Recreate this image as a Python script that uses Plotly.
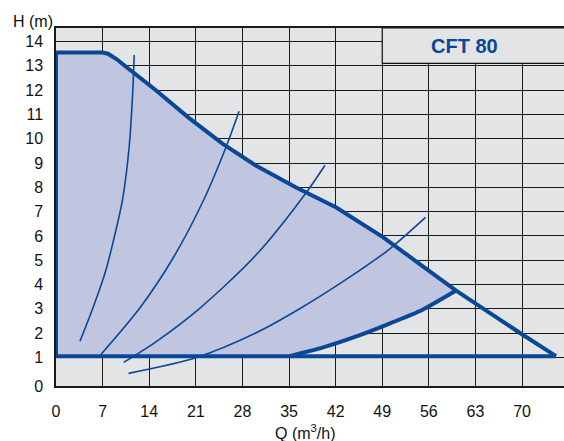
import plotly.graph_objects as go

# ---- axis ticks ----
Q_TICKS = [0, 7, 14, 21, 28, 35, 42, 49, 56, 63, 70]
H_TICKS = list(range(0, 15))
Q_RANGE = [0, 76.3]
H_RANGE = [-0.18, 14.56]

# ---- maximum curve (upper boundary) ----
MAX_Q = [0, 7.0, 7.8, 8.5, 9.2, 10.0, 15.0, 20.0, 25.0, 30.0, 36.0, 42.1, 49.1, 55.1, 60.1, 70.1, 75.1]
MAX_H = [13.55, 13.55, 13.5, 13.4, 13.26, 13.08, 12.0, 10.85, 9.8, 8.9, 8.0, 7.17, 5.95, 4.75, 3.75, 1.93, 1.05]

# ---- bottom line (H ~ 1 m) ----
BOTTOM_Q = [0, 75.1]
BOTTOM_H = [1.05, 1.05]

# ---- lower boundary curve ----
LOWER_Q = [35.1, 40.0, 45.0, 50.0, 55.0, 60.1]
LOWER_H = [1.05, 1.4, 1.85, 2.38, 2.95, 3.75]

# ---- system curves (thin) ----
A_Q = [3.6, 5.5, 7.4, 8.8, 10.0, 11.0, 11.5, 11.75]
A_H = [1.66, 3.0, 4.5, 6.0, 7.5, 9.7, 11.8, 13.45]
B_Q = [6.75, 12.5, 17.5, 22.25, 25.6, 27.5]
B_H = [1.12, 3.0, 5.05, 7.52, 9.70, 11.13]
C_Q = [10.15, 15.0, 21.5, 30.0, 37.6, 40.4]
C_H = [0.79, 1.64, 3.0, 5.2, 7.79, 8.91]
D_Q = [10.9, 21.0, 30.0, 36.6, 44.1, 50.1, 55.5]
D_H = [0.34, 0.98, 2.0, 3.0, 4.30, 5.46, 6.76]

TITLE = "CFT 80"

BLUE = "#0b4797"
FILL = "#c1c6e0"
BG = "#e3e4e6"
GRID = "#1a1a1a"
FONT = "Liberation Sans, Arial, sans-serif"

fig = go.Figure()

# shaded operating region
jn = MAX_Q.index(60.1)
poly_q = [BOTTOM_Q[0]] + MAX_Q[: jn + 1] + LOWER_Q[::-1] + [BOTTOM_Q[0]]
poly_h = [BOTTOM_H[0]] + MAX_H[: jn + 1] + LOWER_H[::-1] + [BOTTOM_H[0]]
fig.add_trace(go.Scatter(x=poly_q, y=poly_h, mode="lines", fill="toself",
                         fillcolor=FILL, line=dict(width=0), hoverinfo="skip"))

for qs, hs in [(A_Q, A_H), (B_Q, B_H), (C_Q, C_H), (D_Q, D_H)]:
    fig.add_trace(go.Scatter(x=qs, y=hs, mode="lines",
                             line=dict(color=BLUE, width=1.6, shape="spline", smoothing=0.8)))

fig.add_trace(go.Scatter(x=LOWER_Q, y=LOWER_H, mode="lines",
                         line=dict(color=BLUE, width=4, shape="spline", smoothing=0.5)))
fig.add_trace(go.Scatter(x=BOTTOM_Q, y=BOTTOM_H, mode="lines",
                         line=dict(color=BLUE, width=4)))
fig.add_trace(go.Scatter(x=[0, 0], y=[BOTTOM_H[0], MAX_H[0]], mode="lines",
                         line=dict(color=BLUE, width=4)))
fig.add_trace(go.Scatter(x=MAX_Q, y=MAX_H, mode="lines",
                         line=dict(color=BLUE, width=4, shape="linear")))

# title box
fig.add_shape(type="rect", xref="x", yref="y", x0=49, x1=Q_RANGE[1] + 2, y0=13.1, y1=H_RANGE[1],
              fillcolor=BG, line=dict(color="#111", width=1.2), layer="above")
fig.add_annotation(x=61.4, y=(13.1 + H_RANGE[1]) / 2, xref="x", yref="y",
                   text="<b>" + TITLE + "</b>", showarrow=False,
                   font=dict(family=FONT, size=20, color=BLUE))

fig.add_annotation(x=-0.045, y=1.017, xref="paper", yref="paper", text="H (m)",
                   showarrow=False, xanchor="center", yanchor="middle",
                   font=dict(family=FONT, size=16, color="#111"))
fig.add_annotation(x=0.49, y=-0.128, xref="paper", yref="paper", text="Q (m<sup>3</sup>/h)",
                   showarrow=False, xanchor="center", yanchor="middle",
                   font=dict(family=FONT, size=16, color="#111"))

tickvals_h = [H_RANGE[0]] + H_TICKS[1:]
ticktext_h = [str(v) for v in H_TICKS]

fig.update_layout(
    width=564, height=441,
    margin=dict(l=56, r=0, t=28, b=55, autoexpand=False),
    paper_bgcolor="white", plot_bgcolor=BG,
    showlegend=False,
    font=dict(family=FONT, size=16, color="#111"),
    xaxis=dict(range=Q_RANGE, tickvals=Q_TICKS, ticktext=[str(v) for v in Q_TICKS],
               showgrid=True, gridcolor=GRID, gridwidth=1, zeroline=False,
               showline=True, linecolor=GRID, linewidth=1.5, mirror=True,
               ticks="", ticklabelstandoff=10, fixedrange=True),
    yaxis=dict(range=H_RANGE, tickvals=tickvals_h, ticktext=ticktext_h,
               showgrid=True, gridcolor=GRID, gridwidth=1, zeroline=False,
               showline=True, linecolor=GRID, linewidth=1.5, mirror=True,
               ticks="", ticklabelstandoff=8, fixedrange=True),
)

fig.write_html("out.html", config={"displayModeBar": False},
               post_script="document.body.style.margin='0';document.body.style.padding='0';")
